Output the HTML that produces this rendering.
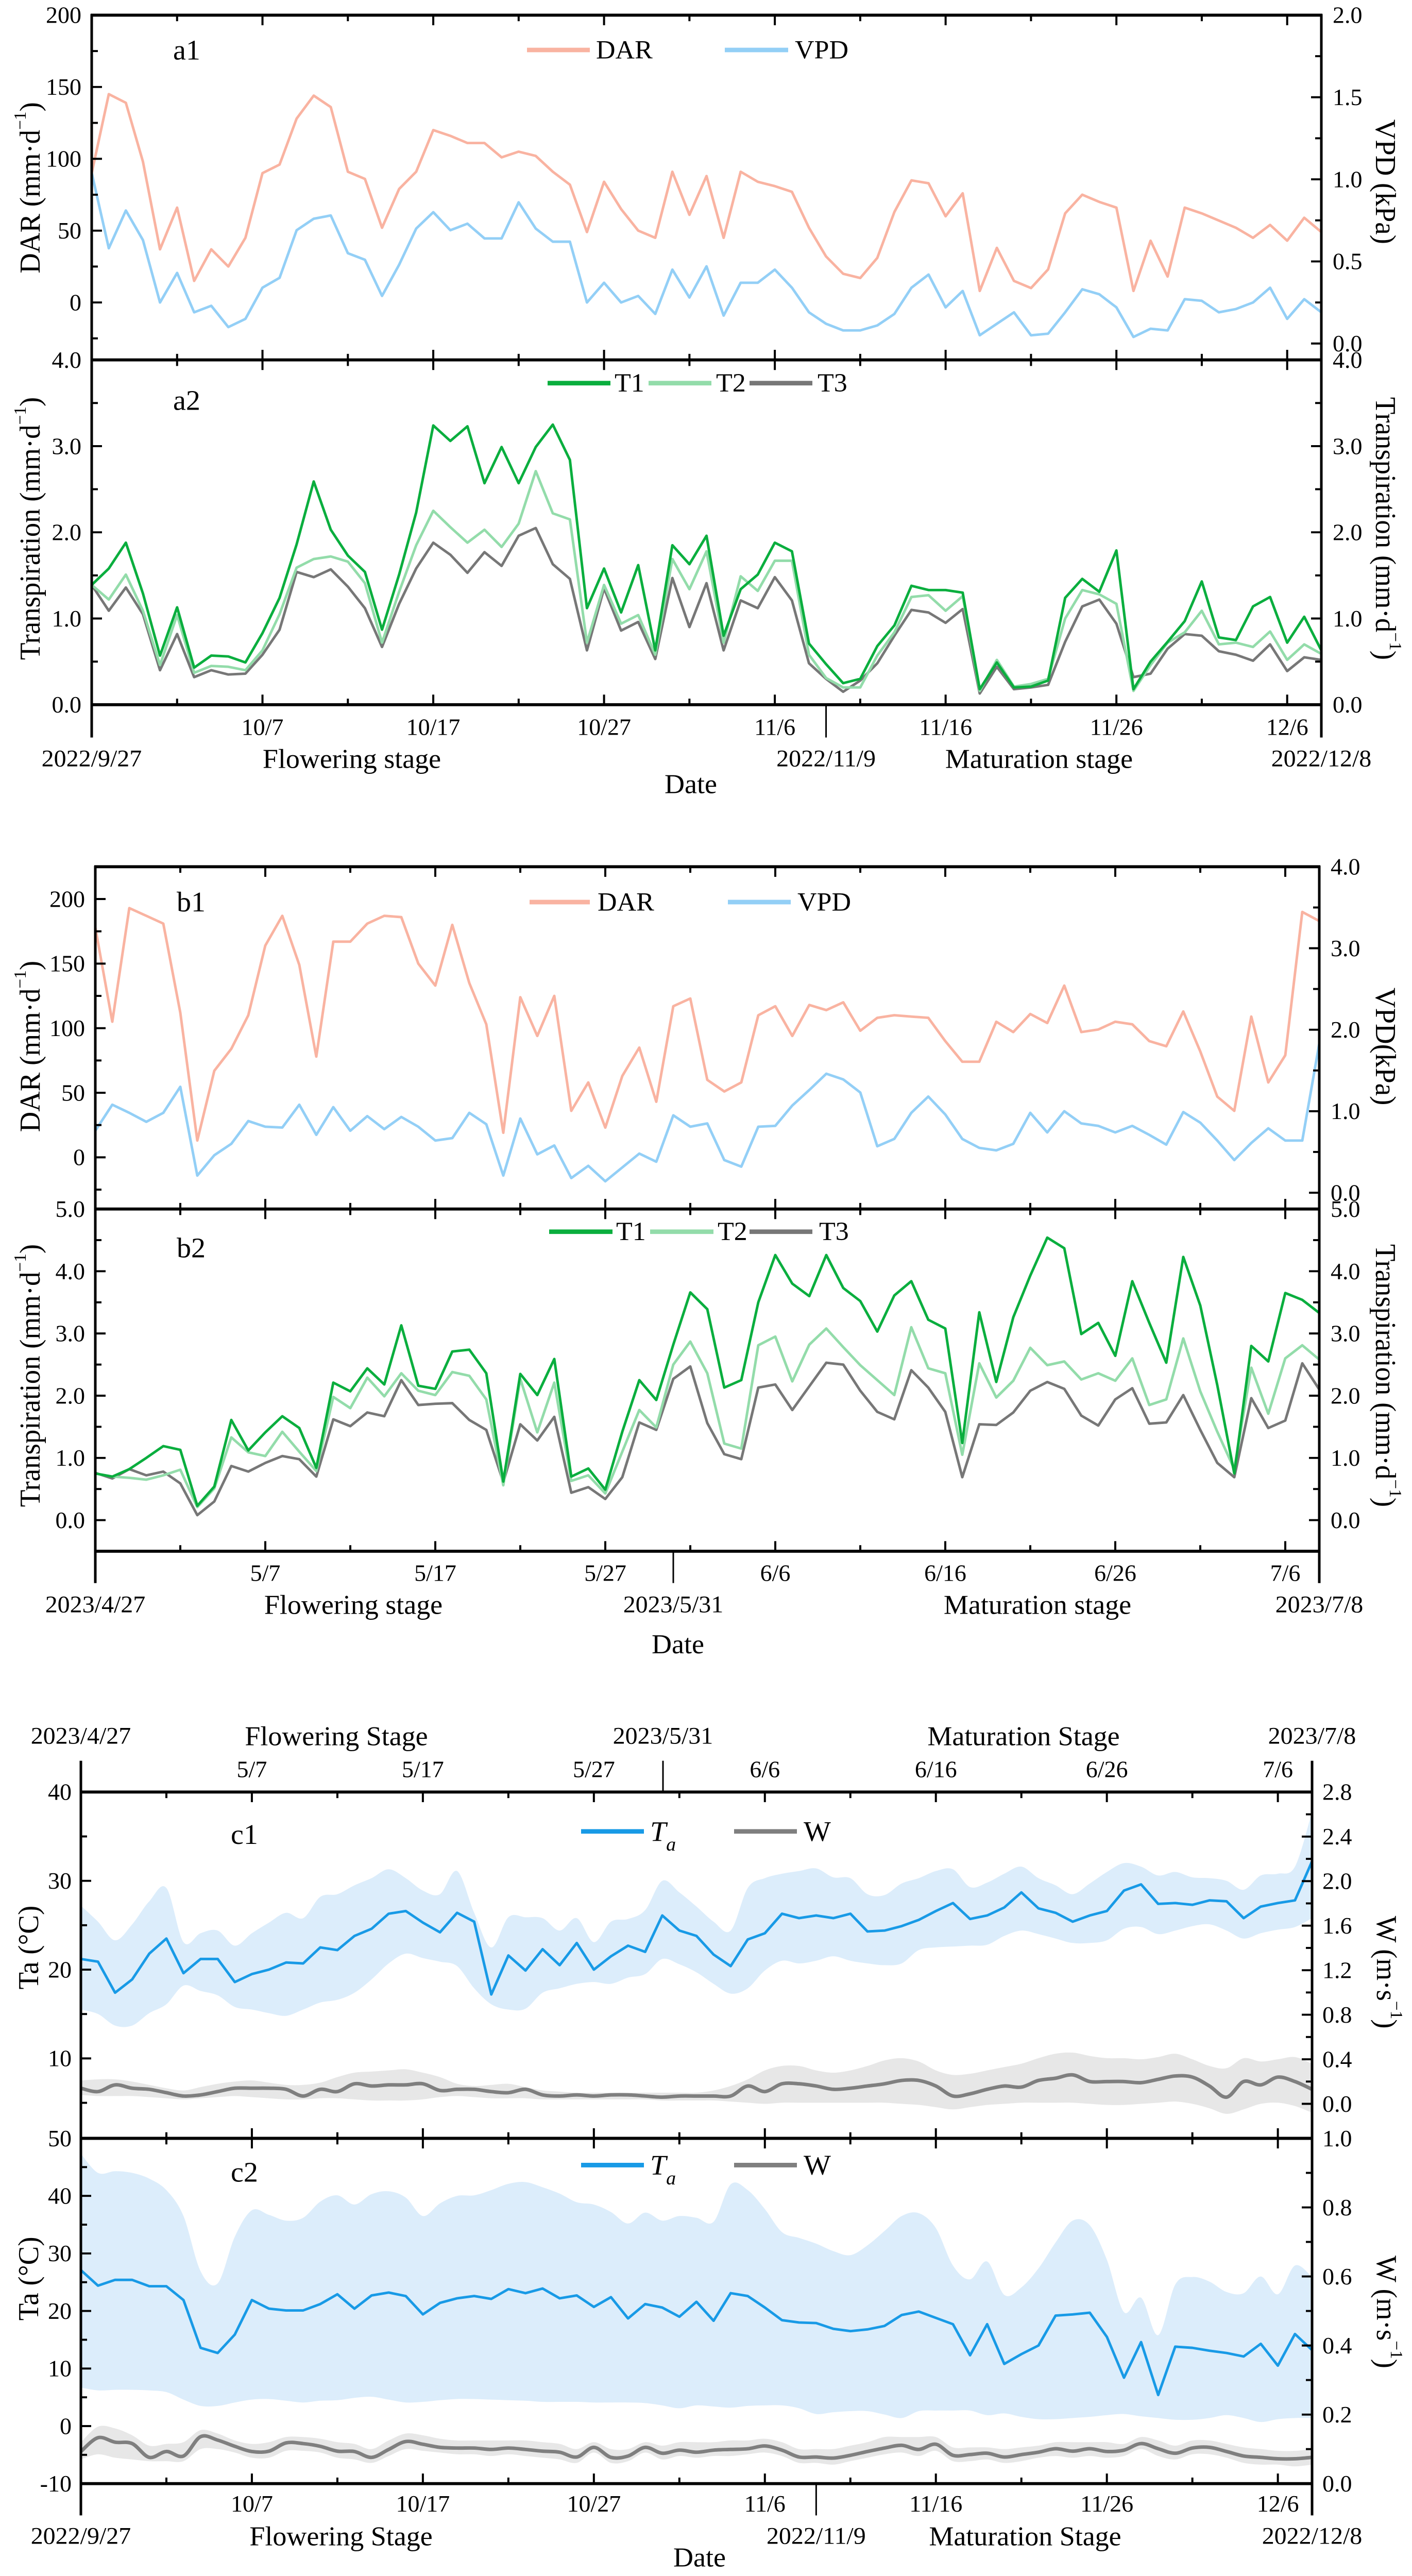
<!DOCTYPE html>
<html>
<head>
<meta charset="utf-8">
<style>
html,body{margin:0;padding:0;background:#fff;overflow:hidden;}
svg{display:block;position:fixed;left:0;top:0;width:100vw;height:100vh;overflow:hidden;}
text{font-family:"Liberation Serif","Times New Roman",serif;fill:#000;}
</style>
</head>
<body>
<svg id="chart" xmlns="http://www.w3.org/2000/svg" viewBox="0 0 2741 5103" preserveAspectRatio="none">
<rect x="0" y="0" width="2741" height="5103" fill="#fff"/>
</svg>
<script>
// ---------- Panel a data (2022/9/27 - 2022/12/8, daily) ----------
const aDAR=[90,145,139,98,37,66,15,37,25,45,90,96,128,144,136,91,86,52,79,91,120,116,111,111,101,105,102,91,82,49,84,65,50,45,91,61,88,45,91,84,81,77,52,32,20,17,31,63,85,83,60,76,8,38,15,10,23,62,75,70,66,8,43,18,66,62,57,52,45,54,43,59,49];
const aVPD=[1.04,0.58,0.81,0.63,0.25,0.43,0.19,0.23,0.10,0.15,0.34,0.40,0.69,0.76,0.78,0.55,0.51,0.29,0.48,0.70,0.80,0.69,0.73,0.64,0.64,0.86,0.70,0.62,0.62,0.25,0.37,0.25,0.29,0.18,0.45,0.28,0.47,0.17,0.37,0.37,0.45,0.34,0.19,0.12,0.08,0.08,0.11,0.18,0.34,0.42,0.22,0.32,0.05,0.12,0.19,0.05,0.06,0.19,0.33,0.30,0.22,0.04,0.09,0.08,0.27,0.26,0.19,0.21,0.25,0.34,0.15,0.27,0.19];
const aT1=[1.39,1.58,1.88,1.29,0.57,1.13,0.43,0.57,0.56,0.49,0.83,1.24,1.86,2.59,2.03,1.73,1.54,0.87,1.51,2.23,3.24,3.06,3.23,2.57,2.99,2.57,2.99,3.25,2.84,1.12,1.58,1.07,1.62,0.63,1.85,1.63,1.96,0.80,1.34,1.51,1.88,1.78,0.71,0.47,0.25,0.30,0.68,0.92,1.38,1.33,1.33,1.30,0.18,0.49,0.20,0.21,0.28,1.24,1.46,1.31,1.79,0.18,0.50,0.73,0.97,1.43,0.78,0.75,1.14,1.25,0.72,1.02,0.63];
const aT2=[1.39,1.22,1.51,1.09,0.46,1.04,0.37,0.45,0.44,0.40,0.63,1.05,1.59,1.69,1.72,1.66,1.41,0.72,1.31,1.85,2.25,2.06,1.88,2.03,1.83,2.10,2.71,2.22,2.15,0.72,1.39,0.94,1.04,0.58,1.69,1.34,1.78,0.72,1.49,1.32,1.67,1.67,0.58,0.31,0.20,0.20,0.57,0.84,1.25,1.27,1.09,1.26,0.16,0.52,0.21,0.24,0.30,1.00,1.33,1.28,1.17,0.16,0.46,0.72,0.84,1.09,0.70,0.72,0.67,0.85,0.52,0.70,0.59];
const aT3=[1.39,1.09,1.36,1.05,0.40,0.82,0.32,0.40,0.35,0.36,0.58,0.87,1.54,1.48,1.57,1.37,1.12,0.67,1.17,1.58,1.88,1.74,1.53,1.77,1.61,1.96,2.05,1.63,1.46,0.63,1.35,0.86,0.96,0.53,1.47,0.90,1.41,0.63,1.21,1.12,1.48,1.21,0.48,0.30,0.15,0.28,0.48,0.80,1.10,1.07,0.95,1.11,0.13,0.44,0.18,0.20,0.23,0.73,1.14,1.22,0.94,0.32,0.36,0.65,0.82,0.80,0.62,0.58,0.51,0.70,0.39,0.55,0.52];
const aTickDays=[10,20,30,40,50,60,70];
const aTickLabels=['10/7','10/17','10/27','11/6','11/16','11/26','12/6'];

// ---------- Panel b data (2023/4/27 - 2023/7/8, daily) ----------
const bDAR=[178,105,193,187,181,112,13,67,84,110,164,187,149,78,167,167,181,187,186,150,133,180,135,103,19,124,94,125,36,58,23,63,85,43,117,123,60,51,58,110,117,94,118,114,120,98,108,110,109,108,90,74,74,105,97,111,104,133,97,99,105,103,90,86,113,82,47,36,109,58,79,190,183];
const bVPD=[0.76,1.08,0.98,0.87,0.98,1.30,0.21,0.46,0.60,0.88,0.81,0.80,1.08,0.71,1.05,0.76,0.94,0.78,0.93,0.81,0.64,0.67,0.98,0.84,0.21,0.91,0.47,0.58,0.18,0.33,0.14,0.31,0.48,0.38,0.95,0.81,0.85,0.40,0.32,0.81,0.82,1.07,1.26,1.46,1.39,1.23,0.57,0.66,0.98,1.18,0.96,0.66,0.55,0.52,0.60,0.98,0.74,1.00,0.85,0.82,0.74,0.82,0.71,0.59,0.99,0.86,0.64,0.40,0.61,0.79,0.64,0.64,1.83];
const bT1=[0.75,0.70,0.82,1.00,1.19,1.13,0.23,0.54,1.61,1.12,1.41,1.67,1.48,0.84,2.21,2.07,2.44,2.18,3.13,2.16,2.11,2.71,2.74,2.36,0.62,2.35,2.01,2.59,0.70,0.83,0.49,1.42,2.25,1.93,2.82,3.66,3.39,2.13,2.25,3.50,4.26,3.80,3.60,4.26,3.73,3.52,3.03,3.61,3.84,3.22,3.08,1.24,3.34,2.22,3.26,3.93,4.54,4.37,2.99,3.17,2.64,3.84,3.17,2.53,4.23,3.45,2.17,0.75,2.80,2.55,3.65,3.54,3.33];
const bT2=[0.75,0.70,0.68,0.65,0.72,0.81,0.21,0.51,1.33,1.09,1.03,1.42,1.10,0.79,1.98,1.80,2.29,1.99,2.36,2.08,2.01,2.38,2.32,1.94,0.56,2.27,1.41,2.21,0.63,0.72,0.43,1.10,1.77,1.49,2.50,2.87,2.36,1.23,1.15,2.81,2.95,2.23,2.82,3.08,2.78,2.49,2.25,2.01,3.10,2.44,2.36,1.05,2.52,1.97,2.24,2.77,2.49,2.55,2.26,2.36,2.24,2.60,1.85,1.94,2.92,2.07,1.42,0.82,2.45,1.71,2.60,2.81,2.58];
const bT3=[0.76,0.67,0.82,0.72,0.78,0.59,0.08,0.30,0.87,0.78,0.92,1.03,0.98,0.70,1.62,1.51,1.73,1.67,2.25,1.85,1.87,1.88,1.61,1.45,0.61,1.54,1.28,1.66,0.44,0.53,0.34,0.69,1.57,1.45,2.27,2.47,1.56,1.06,0.98,2.13,2.18,1.77,2.15,2.53,2.50,2.08,1.74,1.62,2.41,2.13,1.74,0.69,1.54,1.53,1.73,2.08,2.22,2.11,1.68,1.52,1.94,2.12,1.55,1.57,2.01,1.45,0.92,0.69,1.96,1.48,1.60,2.52,2.10];
const bTickDays=[10,20,30,40,50,60,70];
const bTickLabels=['5/7','5/17','5/27','6/6','6/16','6/26','7/6'];

// ---------- Panel c1 data (2023 season) ----------
const c1Ta=[21.2,20.9,17.4,18.9,21.8,23.5,19.6,21.2,21.2,18.6,19.5,20.0,20.8,20.7,22.5,22.2,23.8,24.6,26.3,26.6,25.3,24.2,26.4,25.4,17.2,21.6,19.9,22.3,20.5,23.0,20.0,21.5,22.7,22.0,26.1,24.4,23.8,21.7,20.4,23.4,24.1,26.3,25.8,26.1,25.8,26.3,24.3,24.4,24.9,25.6,26.6,27.5,25.7,26.1,27.0,28.7,26.9,26.4,25.4,26.1,26.6,28.9,29.6,27.4,27.5,27.3,27.8,27.7,25.8,27.1,27.5,27.8,32.2];
const c1TaHi=[27.2,25.4,23.3,25.1,27.7,29.2,23.1,24.1,24.4,22.7,24.1,25.3,26.4,25.8,28.2,28.5,29.5,30.3,31.3,30.3,28.9,28.5,31.1,26.4,22.5,25.9,25.9,25.8,24.4,25.8,23.1,25.4,25.7,26.7,30.0,28.7,27.1,25.4,24.4,29.2,30.3,30.8,31.1,31.4,30.4,30.3,28.5,28.4,29.7,30.3,31.1,31.3,29.3,29.8,30.8,31.6,30.3,29.5,28.5,29.7,31.0,32.0,31.6,30.6,31.0,30.4,30.3,30.0,29.0,30.6,30.8,31.6,37.8];
const c1TaLo=[15.5,15.0,13.7,13.7,15.1,16.1,18.2,17.6,17.1,15.8,15.5,15.1,14.8,15.5,16.3,16.6,17.4,18.9,20.7,21.8,21.3,20.9,20.4,17.9,16.1,15.5,15.6,17.4,17.9,18.4,18.6,18.4,19.1,19.5,21.2,20.6,19.7,18.4,17.3,17.9,19.9,21.0,20.7,21.0,21.5,21.0,20.7,20.5,20.7,22.2,22.5,22.6,22.7,22.8,23.8,24.4,24.0,23.5,23.0,23.0,23.3,24.6,24.8,24.0,24.4,24.9,25.1,24.4,23.5,24.1,24.5,24.8,25.8];
const c1W=[0.14,0.11,0.17,0.14,0.13,0.10,0.07,0.08,0.11,0.14,0.14,0.14,0.13,0.07,0.13,0.11,0.18,0.16,0.17,0.17,0.18,0.12,0.13,0.13,0.11,0.10,0.13,0.08,0.07,0.08,0.07,0.08,0.08,0.07,0.06,0.07,0.07,0.07,0.07,0.16,0.11,0.18,0.18,0.16,0.13,0.14,0.16,0.18,0.21,0.21,0.16,0.07,0.09,0.13,0.16,0.15,0.21,0.23,0.26,0.20,0.20,0.20,0.19,0.22,0.25,0.24,0.16,0.06,0.20,0.17,0.24,0.20,0.13];
const c1WHi=[0.21,0.22,0.22,0.20,0.17,0.14,0.12,0.15,0.18,0.20,0.21,0.19,0.17,0.17,0.19,0.24,0.28,0.29,0.30,0.31,0.28,0.24,0.18,0.16,0.17,0.18,0.15,0.12,0.11,0.10,0.10,0.10,0.10,0.10,0.10,0.10,0.10,0.12,0.16,0.22,0.30,0.34,0.34,0.30,0.28,0.30,0.34,0.39,0.41,0.38,0.30,0.26,0.27,0.30,0.33,0.36,0.41,0.45,0.46,0.43,0.41,0.41,0.40,0.42,0.45,0.40,0.34,0.32,0.41,0.38,0.40,0.42,0.36];
const c1WLo=[0.08,0.07,0.07,0.07,0.06,0.05,0.04,0.05,0.06,0.07,0.06,0.05,0.04,0.04,0.05,0.05,0.04,0.03,0.03,0.03,0.04,0.06,0.07,0.06,0.05,0.05,0.05,0.04,0.04,0.04,0.04,0.04,0.04,0.04,0.03,0.03,0.03,0.03,0.02,0.01,0.00,0.01,0.01,0.01,0.01,0.01,0.01,0.01,0.00,-0.01,-0.03,-0.05,-0.03,-0.01,0.00,0.01,0.01,0.01,0.01,0.00,-0.01,-0.01,0.00,0.01,0.02,0.00,-0.04,-0.09,-0.05,0.00,0.01,-0.02,-0.08];

// ---------- Panel c2 data (2022 season) ----------
const c2Ta=[27.1,24.4,25.4,25.4,24.3,24.3,21.9,13.6,12.7,15.9,21.9,20.4,20.1,20.1,21.2,22.9,20.4,22.7,23.2,22.6,19.4,21.4,22.2,22.6,22.1,23.8,23.1,23.9,22.2,22.7,20.7,22.4,18.7,21.2,20.6,19.0,21.6,18.3,23.1,22.6,20.6,18.4,18.0,17.9,16.9,16.5,16.8,17.4,19.3,19.9,18.8,17.7,12.3,17.7,10.8,12.5,14.0,19.2,19.4,19.7,15.5,8.4,14.6,5.4,13.8,13.6,13.1,12.7,12.1,14.3,10.5,16.0,13.2];
const c2TaHi=[47.3,44.0,44.3,44.0,43.0,41.0,36.5,26.9,24.8,32.9,37.5,36.7,35.7,36.2,39.0,40.1,38.5,40.3,40.8,39.7,36.5,38.7,40.0,40.1,41.0,42.1,42.4,41.5,40.4,38.9,38.5,37.2,35.2,37.1,35.7,36.5,36.2,35.5,42.0,41.0,37.7,33.7,32.7,31.7,30.4,29.7,31.4,33.9,36.5,37.0,34.4,27.9,25.5,28.6,22.8,24.1,27.4,31.9,35.7,34.9,28.9,19.8,22.3,15.8,24.6,25.9,25.1,23.3,23.1,26.0,22.9,27.9,25.9];
const c2TaLo=[6.7,6.2,6.3,6.3,6.2,5.9,4.6,3.5,3.5,4.1,4.6,4.7,4.4,4.1,4.4,4.5,4.9,5.1,4.6,4.1,4.2,4.5,4.7,4.7,4.6,4.5,4.4,4.2,4.2,4.2,4.1,4.1,4.1,4.0,3.6,3.1,3.6,3.4,3.2,3.5,3.6,3.6,3.1,2.1,2.4,2.6,2.6,2.0,1.4,2.6,2.7,2.7,2.7,1.9,2.2,1.6,1.2,1.2,1.4,1.6,1.9,2.1,1.7,1.4,1.1,1.1,1.4,1.9,1.4,0.7,1.2,1.4,1.4];
const c2W=[0.093,0.133,0.120,0.116,0.076,0.093,0.080,0.136,0.126,0.108,0.093,0.094,0.118,0.116,0.108,0.094,0.093,0.076,0.099,0.122,0.114,0.105,0.103,0.103,0.099,0.103,0.099,0.094,0.091,0.077,0.105,0.076,0.080,0.105,0.088,0.097,0.091,0.097,0.099,0.101,0.109,0.097,0.077,0.077,0.074,0.082,0.093,0.103,0.111,0.099,0.114,0.082,0.084,0.088,0.077,0.084,0.091,0.101,0.094,0.101,0.093,0.097,0.116,0.101,0.088,0.103,0.105,0.093,0.080,0.076,0.072,0.072,0.076];
const c2WHi=[0.12,0.165,0.16,0.14,0.11,0.115,0.12,0.155,0.145,0.125,0.115,0.12,0.135,0.135,0.13,0.12,0.115,0.10,0.125,0.145,0.14,0.13,0.125,0.125,0.125,0.125,0.125,0.12,0.115,0.10,0.12,0.10,0.10,0.12,0.11,0.12,0.12,0.12,0.125,0.125,0.13,0.12,0.10,0.10,0.10,0.11,0.12,0.135,0.135,0.135,0.135,0.105,0.105,0.105,0.10,0.105,0.11,0.12,0.12,0.12,0.12,0.115,0.135,0.125,0.11,0.125,0.125,0.115,0.105,0.10,0.095,0.095,0.10];
const c2WLo=[0.07,0.085,0.075,0.07,0.065,0.065,0.065,0.10,0.10,0.09,0.075,0.075,0.095,0.095,0.09,0.075,0.07,0.06,0.08,0.10,0.095,0.09,0.085,0.085,0.08,0.085,0.08,0.075,0.07,0.06,0.09,0.06,0.065,0.09,0.07,0.08,0.075,0.08,0.08,0.085,0.09,0.08,0.06,0.06,0.055,0.065,0.075,0.085,0.09,0.08,0.095,0.065,0.065,0.07,0.06,0.065,0.075,0.08,0.075,0.08,0.075,0.08,0.10,0.08,0.07,0.085,0.085,0.075,0.06,0.055,0.055,0.05,0.055];

// ---------- helpers ----------
const NS='http://www.w3.org/2000/svg';
const svg=document.getElementById('chart');
function mk(tag,attrs,parent,name,inter){
  const e=document.createElementNS(NS,tag);
  for(const k in attrs) e.setAttribute(k,attrs[k]);
  
  
  (parent||svg).appendChild(e);
  return e;
}
function lin(d0,d1,r0,r1){return v=>r0+(v-d0)/(d1-d0)*(r1-r0);}
function straightPath(arr,xf,yf){return arr.map((v,i)=>(i?'L':'M')+xf(i).toFixed(1)+','+yf(v).toFixed(1)).join('');}
function smoothPts(pts,start){
  let d=start?('M'+pts[0][0].toFixed(1)+','+pts[0][1].toFixed(1)):('L'+pts[0][0].toFixed(1)+','+pts[0][1].toFixed(1));
  for(let i=0;i<pts.length-1;i++){
    const p0=pts[i-1]||pts[i],p1=pts[i],p2=pts[i+1],p3=pts[i+2]||p2;
    const c1x=p1[0]+(p2[0]-p0[0])/6,c1y=p1[1]+(p2[1]-p0[1])/6;
    const c2x=p2[0]-(p3[0]-p1[0])/6,c2y=p2[1]-(p3[1]-p1[1])/6;
    d+='C'+c1x.toFixed(1)+','+c1y.toFixed(1)+' '+c2x.toFixed(1)+','+c2y.toFixed(1)+' '+p2[0].toFixed(1)+','+p2[1].toFixed(1);
  }
  return d;
}
function band(hi,lo,xf,yf,fill,name){
  const up=hi.map((v,i)=>[xf(i),yf(v)]);
  const dn=lo.map((v,i)=>[xf(i),yf(v)]).reverse();
  const d=smoothPts(up,true)+smoothPts(dn,false)+'Z';
  mk('path',{d:d,fill:fill,stroke:'none'},svg,name,false);
}
function text(x,y,str,attrs,name){
  const a=Object.assign({x:x,y:y,'font-size':46,'dominant-baseline':'central'},attrs||{});
  const t=mk('text',a,svg,name,false);
  t.textContent=str;
  return t;
}
function hline(x1,x2,y,w,name){mk('line',{x1:x1,x2:x2,y1:y,y2:y,stroke:'#000','stroke-width':w},svg,name,false);}
function vline(x,y1,y2,w,name){mk('line',{x1:x,x2:x,y1:y1,y2:y2,stroke:'#000','stroke-width':w},svg,name,false);}
function vlineH(x,y,len,name){mk('line',{x1:x,x2:x+len,y1:y,y2:y,stroke:'#000','stroke-width':4},svg,name,false);}
function yTicks(x,dir,yf,majors,minors,labels,labelX,anchor,name){
  majors.forEach((v,i)=>{
    vlineH(x,yf(v),dir*20,name+'-major-tick');
    if(labels) text(labelX,yf(v),labels[i],{'text-anchor':anchor},name+'-label');
  });
  minors.forEach(v=>vlineH(x,yf(v),dir*12,name+'-minor-tick'));
}
function xTicks(y,dir,xf,name){
  for(let d=5;d<72;d+=5){
    const len=(d%10===0)?20:12;
    mk('line',{x1:xf(d),x2:xf(d),y1:y,y2:y+dir*len,stroke:'#000','stroke-width':4},svg,name,false);
  }
}
function rotText(x,y,ang,parts,name){
  const t=mk('text',{x:x,y:y,'font-size':56,'text-anchor':'middle','dominant-baseline':'central',transform:'rotate('+ang+' '+x+' '+y+')'},svg,name,false);
  parts.forEach(p=>{
    const s=document.createElementNS(NS,'tspan');
    s.textContent=p[0];
    if(p[1]) s.setAttribute('baseline-shift',p[1]);
    if(p[2]) s.setAttribute('font-size',p[2]);
    t.appendChild(s);
  });
  return t;
}
const unitT=[['Transpiration (mm·d'],['−1','super',34],[')']];
function legendLine(x1,x2,y,color,name){mk('line',{x1:x1,x2:x2,y1:y,y2:y,stroke:color,'stroke-width':9},svg,name,false);}

const C_DAR='#f9b3a1',C_VPD='#93cff6',C_T1='#0aae3e',C_T2='#93dcaa',C_T3='#777777';
const C_TA='#189ae6',C_TAB='#dcedfb',C_W='#7f7f7f',C_WB='#e7e7e7';

// ================= PANEL A =================
(function(){
  const x0=178,x1=2565,yTop=30,yMid=713,yBot=1396;
  const xf=lin(0,72,x0,x1);
  const yD=lin(-40,200,yMid,yTop), yV=lin(-0.1,2.0,yMid,yTop), yT=lin(0,4,yBot,yMid);
  mk('path',{d:straightPath(aDAR,xf,yD),fill:'none',stroke:C_DAR,'stroke-width':5,'stroke-linejoin':'round'},svg,'a1-dar-line',false);
  mk('path',{d:straightPath(aVPD,xf,yV),fill:'none',stroke:C_VPD,'stroke-width':5,'stroke-linejoin':'round'},svg,'a1-vpd-line',false);
  mk('path',{d:straightPath(aT3,xf,yT),fill:'none',stroke:C_T3,'stroke-width':5,'stroke-linejoin':'round'},svg,'a2-t3-line',false);
  mk('path',{d:straightPath(aT2,xf,yT),fill:'none',stroke:C_T2,'stroke-width':5,'stroke-linejoin':'round'},svg,'a2-t2-line',false);
  mk('path',{d:straightPath(aT1,xf,yT),fill:'none',stroke:C_T1,'stroke-width':5,'stroke-linejoin':'round'},svg,'a2-t1-line',false);
  hline(x0-2,x1+2,yTop,6,'a1-top-axis'); hline(x0-2,x1+2,yMid,6,'a-shared-axis'); hline(x0-2,x1+2,yBot,6,'a2-bottom-axis');
  vline(x0,yTop-2,1461,5,'a-left-axis'); vline(x1,yTop-2,1461,5,'a-right-axis');
  vline(xf(43),yBot,1461,3,'a-stage-divider');
  xTicks(yTop,1,xf,'a1-top-tick'); xTicks(yMid,-1,xf,'a1-bottom-tick'); xTicks(yMid,1,xf,'a2-top-tick'); xTicks(yBot,-1,xf,'a2-bottom-tick');
  yTicks(x0,1,yD,[0,50,100,150,200],[-25,25,75,125,175],['0','50','100','150','200'],x0-20,'end','a1-dar-axis');
  yTicks(x1,-1,yV,[0,0.5,1,1.5,2],[0.25,0.75,1.25,1.75],['0.0','0.5','1.0','1.5','2.0'],x1+22,'start','a1-vpd-axis');
  yTicks(x0,1,yT,[0,1,2,3,4],[0.5,1.5,2.5,3.5],['0.0','1.0','2.0','3.0','4.0'],x0-20,'end','a2-left-axis');
  yTicks(x1,-1,yT,[0,1,2,3,4],[0.5,1.5,2.5,3.5],['0.0','1.0','2.0','3.0','4.0'],x1+22,'start','a2-right-axis');
  aTickDays.forEach((d,i)=>text(xf(d),1440,aTickLabels[i],{'text-anchor':'middle'},'a-x-tick-label'));
  text(x0,1503,'2022/9/27',{'text-anchor':'middle','font-size':48},'a-start-date');
  text(683,1503,'Flowering stage',{'text-anchor':'middle','font-size':54},'a-flowering-label');
  text(xf(43),1503,'2022/11/9',{'text-anchor':'middle','font-size':48},'a-split-date');
  text(2017,1503,'Maturation stage',{'text-anchor':'middle','font-size':54},'a-maturation-label');
  text(x1,1503,'2022/12/8',{'text-anchor':'middle','font-size':48},'a-end-date');
  text(1341,1553,'Date',{'text-anchor':'middle','font-size':54},'a-x-axis-title');
  rotText(58,372,-90,[['DAR (mm·d'],['−1','super',34],[')']],'a1-y-axis-title');
  rotText(2690,360,90,[['VPD (kPa)']],'a1-right-axis-title');
  rotText(58,1047,-90,unitT,'a2-y-axis-title');
  rotText(2690,1047,90,unitT,'a2-right-axis-title');
  text(336,99,'a1',{'font-size':56},'a1-panel-label');
  text(336,793,'a2',{'font-size':56},'a2-panel-label');
  legendLine(1023,1145,99,C_DAR,'legend-dar-swatch'); text(1157,99,'DAR',{'font-size':52},'legend-dar');
  legendLine(1407,1530,99,C_VPD,'legend-vpd-swatch'); text(1543,99,'VPD',{'font-size':52},'legend-vpd');
  legendLine(1063,1185,759,C_T1,'legend-t1-swatch'); text(1193,759,'T1',{'font-size':52},'legend-t1');
  legendLine(1259,1381,759,C_T2,'legend-t2-swatch'); text(1390,759,'T2',{'font-size':52},'legend-t2');
  legendLine(1455,1577,759,C_T3,'legend-t3-swatch'); text(1587,759,'T3',{'font-size':52},'legend-t3');
})();

// ================= PANEL B =================
(function(){
  const x0=185,x1=2561,yTop=1717,yMid=2395,yBot=3073;
  const xf=lin(0,72,x0,x1);
  const yD=lin(-40,225,yMid,yTop), yV=lin(-0.2,4.0,yMid,yTop), yT=lin(-0.5,5,yBot,yMid);
  mk('path',{d:straightPath(bDAR,xf,yD),fill:'none',stroke:C_DAR,'stroke-width':5,'stroke-linejoin':'round'},svg,'b1-dar-line',false);
  mk('path',{d:straightPath(bVPD,xf,yV),fill:'none',stroke:C_VPD,'stroke-width':5,'stroke-linejoin':'round'},svg,'b1-vpd-line',false);
  mk('path',{d:straightPath(bT3,xf,yT),fill:'none',stroke:C_T3,'stroke-width':5,'stroke-linejoin':'round'},svg,'b2-t3-line',false);
  mk('path',{d:straightPath(bT2,xf,yT),fill:'none',stroke:C_T2,'stroke-width':5,'stroke-linejoin':'round'},svg,'b2-t2-line',false);
  mk('path',{d:straightPath(bT1,xf,yT),fill:'none',stroke:C_T1,'stroke-width':5,'stroke-linejoin':'round'},svg,'b2-t1-line',false);
  hline(x0-2,x1+2,yTop,6,'b1-top-axis'); hline(x0-2,x1+2,yMid,6,'b-shared-axis'); hline(x0-2,x1+2,yBot,6,'b2-bottom-axis');
  vline(x0,yTop-2,3136,5,'b-left-axis'); vline(x1,yTop-2,3136,5,'b-right-axis');
  vline(xf(34),yBot,3136,3,'b-stage-divider');
  xTicks(yTop,1,xf,'b1-top-tick'); xTicks(yMid,-1,xf,'b1-bottom-tick'); xTicks(yMid,1,xf,'b2-top-tick'); xTicks(yBot,-1,xf,'b2-bottom-tick');
  yTicks(x0,1,yD,[0,50,100,150,200],[-25,25,75,125,175],['0','50','100','150','200'],x0-20,'end','b1-dar-axis');
  yTicks(x1,-1,yV,[0,1,2,3,4],[0.5,1.5,2.5,3.5],['0.0','1.0','2.0','3.0','4.0'],x1+22,'start','b1-vpd-axis');
  yTicks(x0,1,yT,[0,1,2,3,4,5],[0.5,1.5,2.5,3.5,4.5],['0.0','1.0','2.0','3.0','4.0','5.0'],x0-20,'end','b2-left-axis');
  yTicks(x1,-1,yT,[0,1,2,3,4,5],[0.5,1.5,2.5,3.5,4.5],['0.0','1.0','2.0','3.0','4.0','5.0'],x1+22,'start','b2-right-axis');
  bTickDays.forEach((d,i)=>text(xf(d),3116,bTickLabels[i],{'text-anchor':'middle'},'b-x-tick-label'));
  text(x0,3179,'2023/4/27',{'text-anchor':'middle','font-size':48},'b-start-date');
  text(686,3179,'Flowering stage',{'text-anchor':'middle','font-size':54},'b-flowering-label');
  text(xf(34),3179,'2023/5/31',{'text-anchor':'middle','font-size':48},'b-split-date');
  text(2014,3179,'Maturation stage',{'text-anchor':'middle','font-size':54},'b-maturation-label');
  text(x1,3179,'2023/7/8',{'text-anchor':'middle','font-size':48},'b-end-date');
  text(1316,3257,'Date',{'text-anchor':'middle','font-size':54},'b-x-axis-title');
  rotText(58,2073,-90,[['DAR (mm·d'],['−1','super',34],[')']],'b1-y-axis-title');
  rotText(2690,2073,90,[['VPD(kPa)']],'b1-right-axis-title');
  rotText(58,2725,-90,unitT,'b2-y-axis-title');
  rotText(2690,2725,90,unitT,'b2-right-axis-title');
  text(343,1787,'b1',{'font-size':56},'b1-panel-label');
  text(343,2472,'b2',{'font-size':56},'b2-panel-label');
  legendLine(1028,1145,1787,C_DAR,'legend-dar-swatch'); text(1160,1787,'DAR',{'font-size':52},'legend-dar');
  legendLine(1413,1535,1787,C_VPD,'legend-vpd-swatch'); text(1548,1787,'VPD',{'font-size':52},'legend-vpd');
  legendLine(1066,1189,2440,C_T1,'legend-t1-swatch'); text(1196,2440,'T1',{'font-size':52},'legend-t1');
  legendLine(1262,1385,2440,C_T2,'legend-t2-swatch'); text(1393,2440,'T2',{'font-size':52},'legend-t2');
  legendLine(1455,1577,2440,C_T3,'legend-t3-swatch'); text(1590,2440,'T3',{'font-size':52},'legend-t3');
})();

// ================= PANEL C =================
(function(){
  const x0=157,x1=2547,yTop=3550,yMid=4236,yBot=4920;
  const xf=lin(0,72,x0,x1);
  const yTa1=lin(1,40,yMid,yTop), yW1=lin(-0.31,2.8,yMid,yTop);
  const yTa2=lin(-10,50,yBot,yMid), yW2=lin(0,1,yBot,yMid);
  band(c1TaHi,c1TaLo,xf,yTa1,C_TAB,'c1-ta-band');
  band(c1WHi,c1WLo,xf,yW1,C_WB,'c1-w-band');
  mk('path',{d:smoothPts(c1W.map((v,i)=>[xf(i),yW1(v)]),true),fill:'none',stroke:C_W,'stroke-width':7},svg,'c1-w-line',false);
  mk('path',{d:straightPath(c1Ta,xf,yTa1),fill:'none',stroke:C_TA,'stroke-width':5,'stroke-linejoin':'round'},svg,'c1-ta-line',false);
  band(c2TaHi,c2TaLo,xf,yTa2,C_TAB,'c2-ta-band');
  band(c2WHi,c2WLo,xf,yW2,C_WB,'c2-w-band');
  mk('path',{d:smoothPts(c2W.map((v,i)=>[xf(i),yW2(v)]),true),fill:'none',stroke:C_W,'stroke-width':7},svg,'c2-w-line',false);
  mk('path',{d:straightPath(c2Ta,xf,yTa2),fill:'none',stroke:C_TA,'stroke-width':5,'stroke-linejoin':'round'},svg,'c2-ta-line',false);
  hline(x0-2,x1+2,yTop,6,'c1-top-axis'); hline(x0-2,x1+2,yMid,6,'c-shared-axis'); hline(x0-2,x1+2,yBot,6,'c2-bottom-axis');
  vline(x0,3488,4983,5,'c-left-axis'); vline(x1,3488,4983,5,'c-right-axis');
  vline(1287,3488,yTop,3,'c1-stage-divider'); vline(xf(43),yBot,4983,3,'c2-stage-divider');
  xTicks(yTop,1,xf,'c1-top-tick'); xTicks(yMid,-1,xf,'c1-bottom-tick'); xTicks(yMid,1,xf,'c2-top-tick'); xTicks(yBot,-1,xf,'c2-bottom-tick');
  yTicks(x0,1,yTa1,[10,20,30,40],[5,15,25,35],['10','20','30','40'],x0-18,'end','c1-ta-axis');
  yTicks(x1,-1,yW1,[0,0.4,0.8,1.2,1.6,2.0,2.4,2.8],[0.2,0.6,1.0,1.4,1.8,2.2,2.6],['0.0','0.4','0.8','1.2','1.6','2.0','2.4','2.8'],x1+20,'start','c1-w-axis');
  yTicks(x0,1,yTa2,[-10,0,10,20,30,40,50],[-5,5,15,25,35,45],['-10','0','10','20','30','40','50'],x0-18,'end','c2-ta-axis');
  yTicks(x1,-1,yW2,[0,0.2,0.4,0.6,0.8,1.0],[0.1,0.3,0.5,0.7,0.9],['0.0','0.2','0.4','0.6','0.8','1.0'],x1+20,'start','c2-w-axis');
  bTickDays.forEach((d,i)=>text(xf(d),3505,bTickLabels[i],{'text-anchor':'middle'},'c1-x-tick-label'));
  aTickDays.forEach((d,i)=>text(xf(d),4960,aTickLabels[i],{'text-anchor':'middle'},'c2-x-tick-label'));
  text(x0,3439,'2023/4/27',{'text-anchor':'middle','font-size':48},'c1-start-date');
  text(653,3439,'Flowering Stage',{'text-anchor':'middle','font-size':54},'c1-flowering-label');
  text(1287,3439,'2023/5/31',{'text-anchor':'middle','font-size':48},'c1-split-date');
  text(1987,3439,'Maturation Stage',{'text-anchor':'middle','font-size':54},'c1-maturation-label');
  text(x1,3439,'2023/7/8',{'text-anchor':'middle','font-size':48},'c1-end-date');
  text(x0,5024,'2022/9/27',{'text-anchor':'middle','font-size':48},'c2-start-date');
  text(662,5024,'Flowering Stage',{'text-anchor':'middle','font-size':54},'c2-flowering-label');
  text(xf(43),5024,'2022/11/9',{'text-anchor':'middle','font-size':48},'c2-split-date');
  text(1990,5024,'Maturation Stage',{'text-anchor':'middle','font-size':54},'c2-maturation-label');
  text(x1,5024,'2022/12/8',{'text-anchor':'middle','font-size':48},'c2-end-date');
  text(1358,5066,'Date',{'text-anchor':'middle','font-size':54},'c-x-axis-title');
  rotText(55,3858,-90,[['Ta (°C)']],'c1-y-axis-title');
  rotText(55,4514,-90,[['Ta (°C)']],'c2-y-axis-title');
  rotText(2692,3907,90,[['W (m·s'],['−1','super',34],[')']],'c1-right-axis-title');
  rotText(2692,4580,90,[['W (m·s'],['−1','super',34],[')']],'c2-right-axis-title');
  text(448,3634,'c1',{'font-size':56},'c1-panel-label');
  text(448,4303,'c2',{'font-size':56},'c2-panel-label');
  [[3628,'c1'],[4289,'c2']].forEach(r=>{
    legendLine(1128,1250,r[0],C_TA,r[1]+'-legend-ta-swatch');
    const t=mk('text',{x:1262,y:r[0],'font-size':56,'dominant-baseline':'central'},svg,r[1]+'-legend-ta',false);
    const s1=document.createElementNS(NS,'tspan'); s1.textContent='T'; s1.setAttribute('font-style','italic'); t.appendChild(s1);
    const s2=document.createElementNS(NS,'tspan'); s2.textContent='a'; s2.setAttribute('font-style','italic'); s2.setAttribute('font-size','38'); s2.setAttribute('dy','26'); t.appendChild(s2);
    legendLine(1425,1547,r[0],C_W,r[1]+'-legend-w-swatch');
    text(1560,r[0],'W',{'font-size':56},r[1]+'-legend-w');
  });
})();
</script>
</body>
</html>
